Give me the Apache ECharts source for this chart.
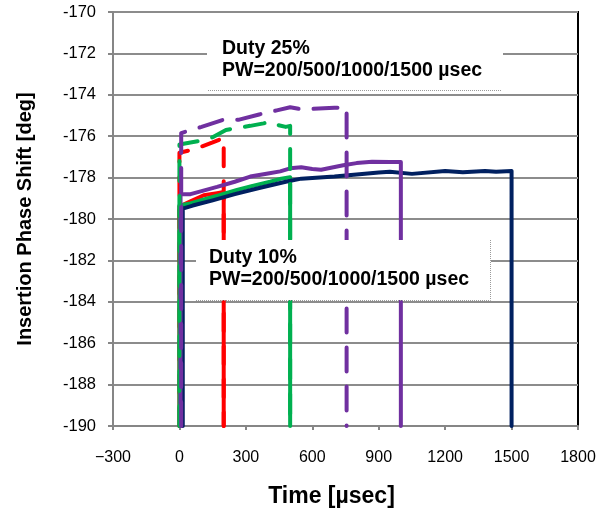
<!DOCTYPE html>
<html>
<head>
<meta charset="utf-8">
<script src="https://cdn.jsdelivr.net/npm/echarts@6/dist/echarts.min.js"></script>
<style>
  html, body { margin: 0; padding: 0; background: #fff; }
  #chart { width: 612px; height: 513px; }
</style>
</head>
<body>
<div id="chart"></div>
<script>
// Axis ranges and tick spacing
const xTicks = { min: -300, max: 1800, step: 300 };
const yTicks = { min: -190, max: -170, step: 2 };

// Duty 10 % pulses: [time in usec, insertion phase shift in deg]
const duty10_pw200 = [[0, -190], [0, -179.4], [50, -179.15], [110, -178.85], [170, -178.75], [200, -178.7], [200, -190]];
const duty10_pw500 = [[0, -190], [0, -179.35], [50, -179.25], [110, -179.05], [180, -178.85], [260, -178.6], [330, -178.4], [410, -178.2], [460, -178.05], [500, -177.98], [500, -190]];
const duty10_pw1000 = [[5, -190], [5, -178.8], [50, -178.8], [100, -178.65], [170, -178.45], [250, -178.2], [320, -177.95], [400, -177.8], [455, -177.7], [500, -177.55], [550, -177.5], [600, -177.58], [640, -177.62], [740, -177.4], [800, -177.3], [870, -177.23], [950, -177.25], [1000, -177.25], [1000, -190]];
const duty10_pw1500 = [[15, -190], [15, -179.5], [60, -179.35], [150, -179.1], [250, -178.8], [360, -178.5], [480, -178.2], [550, -178.05], [700, -177.95], [800, -177.85], [900, -177.75], [950, -177.72], [1050, -177.82], [1200, -177.68], [1280, -177.74], [1380, -177.68], [1430, -177.72], [1500, -177.68], [1500, -190]];

// Duty 25 % pulses
const duty25_pw200 = [[0, -190], [0, -176.8], [60, -176.65], [100, -176.5], [150, -176.3], [185, -176.15], [200, -176.1], [200, -190]];
const duty25_pw500 = [[0, -190], [0, -176.4], [50, -176.3], [110, -176.2], [150, -176.05], [210, -175.7], [270, -175.58], [320, -175.5], [380, -175.38], [410, -175.3], [440, -175.45], [480, -175.55], [500, -175.5], [500, -190]];
const duty25_pw1000 = [[8, -190], [8, -175.85], [50, -175.7], [100, -175.55], [200, -175.2], [270, -175.2], [360, -174.95], [440, -174.75], [500, -174.6], [550, -174.7], [600, -174.68], [700, -174.62], [755, -174.62], [755, -190]];

// Annotation texts
const note25 = ['Duty 25%', 'PW=200/500/1000/1500 \u00b5sec'];
const note10 = ['Duty 10%', 'PW=200/500/1000/1500 \u00b5sec'];

const RED = '#FF0000', GREEN = '#00B050', PURPLE = '#7030A0', NAVY = '#002060';

function solid(data, color) {
  return {
    type: 'line', data: data, showSymbol: false, silent: true, animation: false,
    lineStyle: { color: color, width: 4, cap: 'round', join: 'round' }
  };
}
function dashed(data, color, dash) {
  return {
    type: 'line', data: data, showSymbol: false, silent: true, animation: false,
    lineStyle: { color: color, width: 4, type: dash, cap: 'round', join: 'round' }
  };
}

const chart = echarts.init(document.getElementById('chart'), null, { renderer: 'canvas' });
const noteFont = 'bold 19.5px Arial, "Liberation Sans", sans-serif';

chart.setOption({
  backgroundColor: '#fff',
  animation: false,
  grid: {
    left: 113, right: 34, top: 12, bottom: 84,
    show: true, borderColor: '#000', borderWidth: 2, backgroundColor: 'transparent'
  },
  xAxis: {
    type: 'value', min: xTicks.min, max: xTicks.max, interval: xTicks.step,
    name: 'Time [\u00b5sec]', nameLocation: 'middle', nameGap: 59,
    nameTextStyle: { fontFamily: 'Arial, "Liberation Sans"', fontWeight: 'bold', fontSize: 23, color: '#000', padding: [0, 28, 0, 0] },
    axisLine: { onZero: false, lineStyle: { color: '#868686', width: 2 } },
    axisTick: { show: true, inside: false, length: 4, lineStyle: { color: '#868686', width: 2 } },
    axisLabel: {
      margin: 24, fontFamily: 'Arial, "Liberation Sans"', fontSize: 16, color: '#000',
      formatter: v => String(v).replace('-', '\u2212')
    },
    splitLine: { show: false }
  },
  yAxis: {
    type: 'value', min: yTicks.min, max: yTicks.max, interval: yTicks.step,
    name: 'Insertion Phase Shift [deg]', nameLocation: 'middle', nameGap: 78,
    nameTextStyle: { fontFamily: 'Arial, "Liberation Sans"', fontWeight: 'bold', fontSize: 20, color: '#000' },
    axisLine: { show: true, onZero: false, lineStyle: { color: '#868686', width: 2 } },
    axisTick: { show: true, inside: false, length: 5, lineStyle: { color: '#868686', width: 2 } },
    axisLabel: { margin: 17, fontFamily: 'Arial, "Liberation Sans"', fontSize: 16.5, color: '#000' },
    splitLine: { show: true, lineStyle: { color: '#8c8c8c', width: 2 } }
  },
  series: [
    dashed(duty25_pw200, RED, [18, 15]),
    solid(duty10_pw200, RED),
    solid(duty10_pw500, GREEN),
    solid(duty10_pw1500, NAVY),
    solid(duty10_pw1000, PURPLE),
    dashed(duty25_pw500, GREEN, [20, 15]),
    dashed(duty25_pw1000, PURPLE, [24, 15])
  ],
  graphic: [
    // Duty 25 % label box
    { type: 'rect', z: 100, shape: { x: 207, y: 30, width: 296, height: 60 }, style: { fill: '#fff' } },
    { type: 'line', z: 101, shape: { x1: 208, y1: 90.5, x2: 502, y2: 90.5 }, style: { stroke: '#9a9a9a', lineWidth: 1, lineDash: [1, 1] } },
    { type: 'text', z: 102, x: 222, y: 38, style: { text: note25.join('\n'), font: noteFont, lineHeight: 22, fill: '#000' } },
    // Duty 10 % label box
    { type: 'rect', z: 100, shape: { x: 196, y: 240, width: 295, height: 60 }, style: { fill: '#fff' } },
    { type: 'polyline', z: 101, shape: { points: [[196, 300.5], [490.5, 300.5], [490.5, 240]] }, style: { stroke: '#9a9a9a', lineWidth: 1, lineDash: [1, 1], fill: null } },
    { type: 'text', z: 102, x: 209, y: 247, style: { text: note10.join('\n'), font: noteFont, lineHeight: 22, fill: '#000' } }
  ]
});
</script>
</body>
</html>
